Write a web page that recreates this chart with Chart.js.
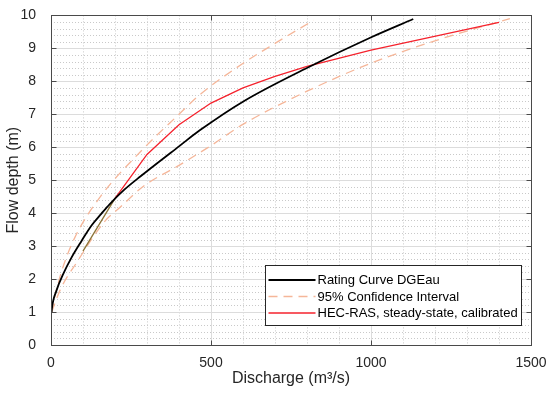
<!DOCTYPE html>
<html><head><meta charset="utf-8">
<script src="https://cdn.jsdelivr.net/npm/chart.js@4.4.0/dist/chart.umd.min.js"></script>
<style>html,body{margin:0;padding:0;background:#fff}#wrap{width:550px;height:396px}</style>
</head><body><div id="wrap"><canvas id="c" width="550" height="396"></canvas></div>
<script>
// ---- data ----
const ratingQ = [2, 3, 17, 38, 64, 95, 126, 157, 183, 230, 280, 403, 466, 601, 809, 999, 1132];
const ratingH = [1.0, 1.12, 1.65, 2.15, 2.65, 3.15, 3.62, 3.98, 4.27, 4.72, 5.12, 6.05, 6.52, 7.39, 8.45, 9.33, 9.89];

const ciUpperQ = [0, 32, 74, 152, 288, 400, 466, 601, 705, 820];
const ciUpperH = [1.0, 2.2, 3.25, 4.47, 5.95, 7.0, 7.6, 8.55, 9.18, 9.85];

const ciLowerQ = [2, 30, 80, 168, 215, 288, 400, 500, 601, 800, 1000, 1200, 1434];
const ciLowerH = [1.0, 1.7, 2.5, 3.75, 4.17, 4.81, 5.45, 6.05, 6.7, 7.7, 8.55, 9.23, 9.9];

const hecQ = [100, 200, 300, 400, 500, 600, 700, 800, 1000, 1400];
const hecH = [2.85, 4.45, 5.78, 6.68, 7.34, 7.8, 8.15, 8.45, 8.95, 9.79];

const xTickValues = [0, 500, 1000, 1500];
const yTickValues = [0, 1, 2, 3, 4, 5, 6, 7, 8, 9, 10];
const xMinorStep = 100;
const yMinorStep = 0.2;

const labels = ['Rating Curve DGEau', '95% Confidence Interval', 'HEC-RAS, steady-state, calibrated'];

const pts = (q, h) => q.map((v, i) => ({x: v, y: h[i]}));

const FONT = '"Liberation Sans", Arial, sans-serif';
const TXT = '#262626';

const gridPlugin = {
  id: 'matlabGrid',
  beforeDatasetsDraw(chart) {
    const {ctx, chartArea: a, scales: {x, y}} = chart;
    ctx.save();
    ctx.lineWidth = 1;
    ctx.strokeStyle = '#c9c9c9';
    ctx.setLineDash([1, 2]);
    for (let q = x.min; q <= x.max + 1e-9; q += xMinorStep) {
      if (xTickValues.includes(Math.round(q))) continue;
      const px = Math.round(x.getPixelForValue(q)) + 0.5;
      ctx.beginPath(); ctx.moveTo(px, a.top); ctx.lineTo(px, a.bottom); ctx.stroke();
    }
    for (let k = 0; k <= Math.round((y.max - y.min) / yMinorStep); k++) {
      const h = y.min + k * yMinorStep;
      if (Math.abs(h - Math.round(h)) < 1e-6) continue;
      const py = Math.round(y.getPixelForValue(h)) + 0.5;
      ctx.beginPath(); ctx.moveTo(a.left, py); ctx.lineTo(a.right, py); ctx.stroke();
    }
    ctx.setLineDash([]);
    ctx.strokeStyle = '#dcdcdc';
    xTickValues.forEach(q => {
      const px = Math.round(x.getPixelForValue(q)) + 0.5;
      ctx.beginPath(); ctx.moveTo(px, a.top); ctx.lineTo(px, a.bottom); ctx.stroke();
    });
    yTickValues.forEach(h => {
      const py = Math.round(y.getPixelForValue(h)) + 0.5;
      ctx.beginPath(); ctx.moveTo(a.left, py); ctx.lineTo(a.right, py); ctx.stroke();
    });
    ctx.restore();
  },
  afterDatasetsDraw(chart) {
    const {ctx, chartArea: a, scales: {x, y}} = chart;
    ctx.save();
    ctx.strokeStyle = '#4a4a4a';
    ctx.lineWidth = 1;
    const L = Math.round(a.left) + 0.5, R = Math.round(a.right) + 0.5;
    const T = Math.round(a.top) + 0.5, B = Math.round(a.bottom) + 0.5;
    ctx.strokeRect(L, T, R - L, B - T);
    const tl = 5;
    xTickValues.forEach(q => {
      const px = Math.round(x.getPixelForValue(q)) + 0.5;
      ctx.beginPath(); ctx.moveTo(px, B); ctx.lineTo(px, B - tl); ctx.stroke();
      ctx.beginPath(); ctx.moveTo(px, T); ctx.lineTo(px, T + tl); ctx.stroke();
    });
    yTickValues.forEach(h => {
      const py = Math.round(y.getPixelForValue(h)) + 0.5;
      ctx.beginPath(); ctx.moveTo(L, py); ctx.lineTo(L + tl, py); ctx.stroke();
      ctx.beginPath(); ctx.moveTo(R, py); ctx.lineTo(R - tl, py); ctx.stroke();
    });
    ctx.restore();
  }
};

const legendPlugin = {
  id: 'insideLegend',
  afterDraw(chart) {
    const {ctx} = chart;
    const bx = 265.5, by = 265.5, bw = 256, bh = 60;
    ctx.save();
    ctx.fillStyle = '#fff';
    ctx.fillRect(bx, by, bw, bh);
    ctx.strokeStyle = '#262626';
    ctx.lineWidth = 1;
    ctx.strokeRect(bx, by, bw, bh);
    const entries = [0, 1, 3];
    const rowY = [280, 296.5, 313];
    entries.forEach((di, i) => {
      const ds = chart.data.datasets[di];
      const yy = rowY[i];
      ctx.strokeStyle = ds.borderColor;
      ctx.lineWidth = ds.borderWidth;
      ctx.setLineDash(ds.borderDash || []);
      ctx.beginPath(); ctx.moveTo(bx + 3, yy); ctx.lineTo(bx + 50, yy); ctx.stroke();
      ctx.setLineDash([]);
      ctx.fillStyle = '#000';
      ctx.font = '13px ' + FONT;
      ctx.textBaseline = 'middle';
      ctx.textAlign = 'left';
      ctx.fillText(labels[i], bx + 52, yy + 0.5);
    });
    ctx.restore();
  }
};

new Chart(document.getElementById('c'), {
  type: 'line',
  data: {
    datasets: [
      {label: labels[0], data: pts(ratingQ, ratingH), borderColor: '#000000', borderWidth: 1.8,
       pointRadius: 0, cubicInterpolationMode: 'monotone', fill: false, order: 0},
      {label: labels[1], data: pts(ciUpperQ, ciUpperH), borderColor: '#f5b699', borderWidth: 1.3,
       borderDash: [9, 6], pointRadius: 0, cubicInterpolationMode: 'monotone', fill: false, order: 2},
      {label: labels[1], data: pts(ciLowerQ, ciLowerH), borderColor: '#f5b699', borderWidth: 1.3,
       borderDash: [9, 6], pointRadius: 0, cubicInterpolationMode: 'monotone', fill: false, order: 2},
      {label: labels[2], data: pts(hecQ, hecH), borderColor: '#f5222d', borderWidth: 1.3,
       pointRadius: 0, tension: 0, fill: false, order: 1,
       segment: {borderColor: c => c.p0DataIndex === 0 ? '#8c7336' : undefined}}
    ]
  },
  options: {
    responsive: false,
    animation: false,
    devicePixelRatio: 1,
    layout: {padding: {left: 0, right: 19, top: 9, bottom: 0}},
    plugins: {legend: {display: false}, tooltip: {enabled: false}},
    scales: {
      x: {
        type: 'linear', min: 0, max: 1500,
        afterBuildTicks: s => { s.ticks = xTickValues.map(v => ({value: v})); },
        ticks: {padding: 2, color: TXT, font: {family: FONT, size: 14}, maxRotation: 0, autoSkip: false,
                callback: v => String(v)},
        grid: {display: false},
        border: {display: false},
        title: {display: true, text: 'Discharge (m³/s)', color: TXT, font: {family: FONT, size: 16},
                padding: {top: 0, bottom: 8}},
        afterFit: s => { s.height = 51; }
      },
      y: {
        type: 'linear', min: 0, max: 10,
        afterBuildTicks: s => { s.ticks = yTickValues.map(v => ({value: v})); },
        ticks: {padding: 7, color: TXT, font: {family: FONT, size: 14}, autoSkip: false,
                callback: v => String(v)},
        grid: {display: false},
        border: {display: false},
        title: {display: true, text: 'Flow depth (m)', color: TXT, font: {family: FONT, size: 16},
                padding: {top: 4, bottom: 0}},
        afterFit: s => { s.width = 51; }
      }
    }
  },
  plugins: [gridPlugin, legendPlugin]
});
</script>
</body></html>
